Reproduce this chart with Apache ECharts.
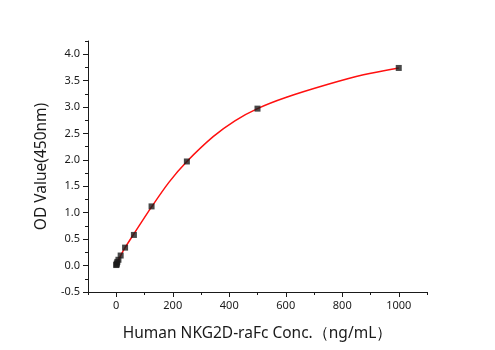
<!DOCTYPE html>
<html>
<head>
<meta charset="utf-8">
<script src="https://cdn.jsdelivr.net/npm/echarts@6/dist/echarts.min.js"></script>
<style>
html, body { margin: 0; padding: 0; background: #fff; }
#chart { width: 495px; height: 350px; }
</style>
</head>
<body>
<div id="chart"></div>
<script>
// measured standards
var conc = [0, 0.98, 1.95, 3.9, 7.8, 15.6, 31.25, 62.5, 125, 250, 500, 1000];
var od = [0.01, 0.02, 0.04, 0.07, 0.11, 0.19, 0.34, 0.58, 1.12, 1.97, 2.97, 3.74];
// fitted curve
var fitX = [0, 15.6, 31.25, 62.5, 125, 187, 250, 343, 420, 500, 600, 750, 875, 1000];
var fitY = [0.03, 0.19, 0.34, 0.6, 1.11, 1.58, 1.97, 2.44, 2.74, 2.97, 3.18, 3.43, 3.61, 3.74];
// tick labels
var xTicks = [0, 200, 400, 600, 800, 1000];
var yTicks = [-0.5, 0, 0.5, 1, 1.5, 2, 2.5, 3, 3.5, 4];

var font = '"Noto Sans", "DejaVu Sans", sans-serif';
var black = '#1a1a1a';

var pts = [];
for (var i = 0; i < conc.length; i++) pts.push([conc[i], od[i]]);
var fit = [];
for (var j = 0; j < fitX.length; j++) fit.push([fitX[j], fitY[j]]);

var myChart = echarts.init(document.getElementById('chart'));
myChart.setOption({
    animation: false,
    backgroundColor: '#fff',
    grid: { left: 88, right: 68, top: 41, bottom: 58 },
    xAxis: [{
        type: 'value', min: -100, max: 1100, interval: 100,
        axisLine: { onZero: false, lineStyle: { color: black, width: 1 } },
        axisTick: { length: 3, lineStyle: { color: black } },
        axisLabel: { show: false },
        splitLine: { show: false }
    }, {
        type: 'value', min: -100, max: 1100, position: 'bottom',
        axisLine: { show: false, onZero: false },
        axisTick: { customValues: xTicks, length: 5, lineStyle: { color: black } },
        axisLabel: {
            customValues: xTicks, color: black, fontSize: 11, fontFamily: font, margin: 8,
            formatter: function (v) { return String(v); }
        },
        splitLine: { show: false },
        name: 'Human NKG2D-raFc Conc.\uFF08ng/mL\uFF09',
        nameLocation: 'middle', nameGap: 34,
        nameTextStyle: { color: black, fontSize: 15.5, fontFamily: font }
    }],
    yAxis: [{
        type: 'value', min: -0.5, max: 4.25, interval: 0.25,
        axisLine: { show: true, onZero: false, lineStyle: { color: black, width: 1 } },
        axisTick: { show: true, length: 3, lineStyle: { color: black } },
        axisLabel: { show: false },
        splitLine: { show: false }
    }, {
        type: 'value', min: -0.5, max: 4.25, position: 'left',
        axisLine: { show: false, onZero: false },
        axisTick: { show: true, customValues: yTicks, length: 5, lineStyle: { color: black } },
        axisLabel: {
            customValues: yTicks, color: black, fontSize: 11, fontFamily: font, margin: 8,
            formatter: function (v) { return v.toFixed(1); }
        },
        splitLine: { show: false },
        name: 'OD Value(450nm)',
        nameLocation: 'middle', nameGap: 36,
        nameTextStyle: { color: black, fontSize: 15.5, fontFamily: font }
    }],
    series: [{
        type: 'line', data: fit, smooth: 0.3, showSymbol: false,
        lineStyle: { color: '#ff1010', width: 1.5 },
        xAxisIndex: 0, yAxisIndex: 0, z: 2
    }, {
        type: 'scatter', data: pts, symbol: 'rect', symbolSize: 6,
        itemStyle: { color: '#1a1a1a' },
        xAxisIndex: 0, yAxisIndex: 0, z: 3
    }]
});
</script>
</body>
</html>
